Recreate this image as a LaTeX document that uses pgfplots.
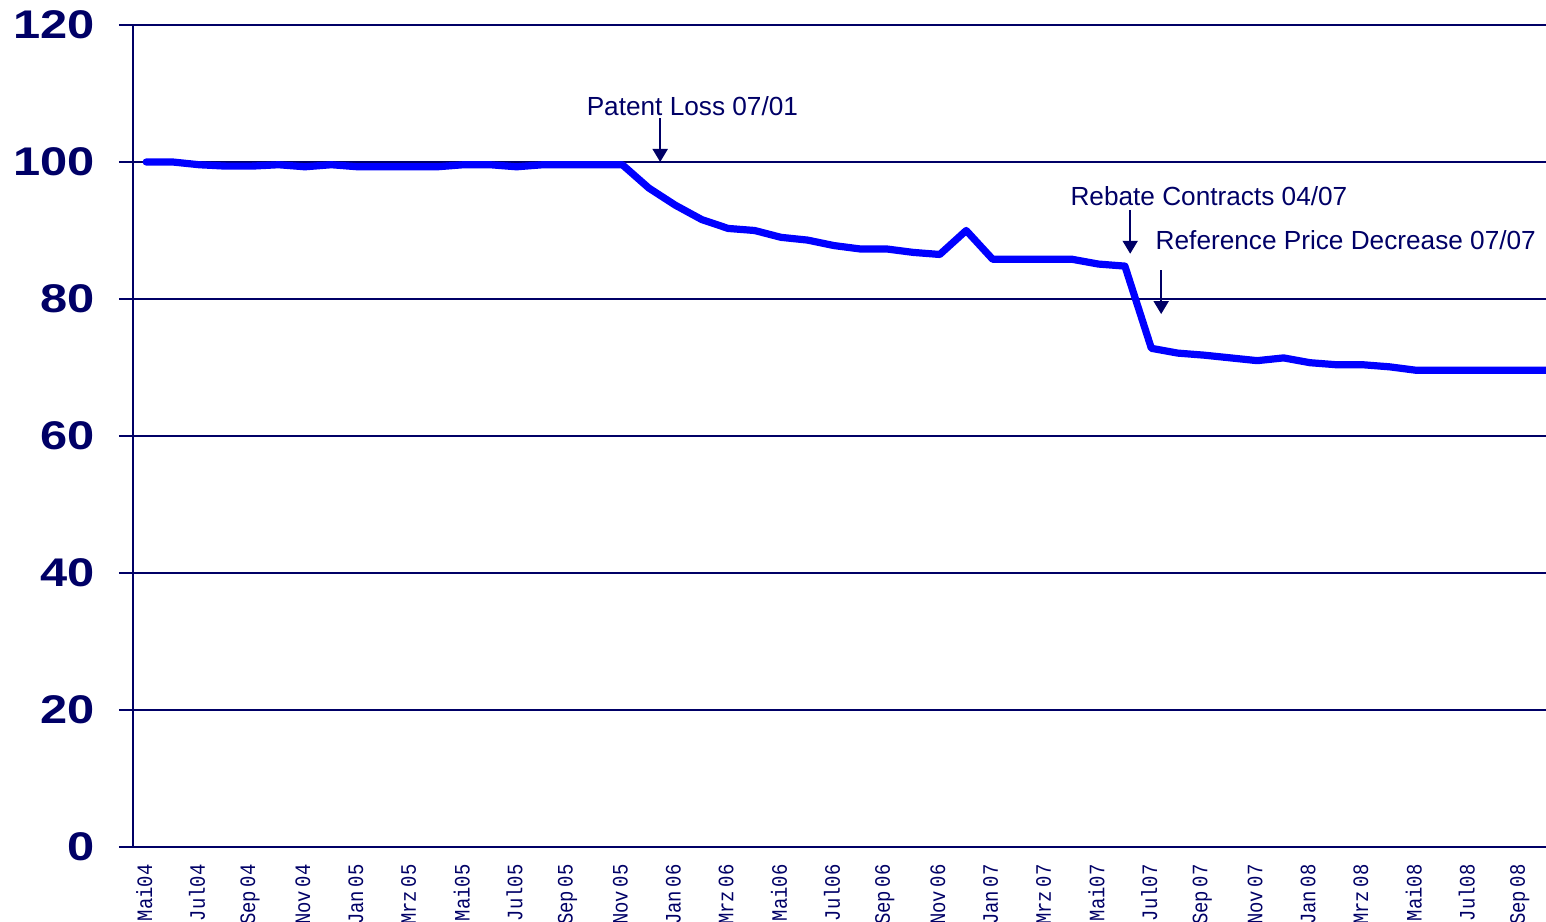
\documentclass[border=0pt]{standalone}
\usepackage{pgfplots}
\pgfplotsset{compat=1.18}
\usepackage{graphicx}
\usepackage{fontspec}
\setmainfont{Liberation Sans}
\newfontfamily\monofont{Liberation Mono}
\usetikzlibrary{arrows.meta}
\definecolor{navy}{RGB}{0,0,102}
\definecolor{lineblue}{RGB}{0,0,255}
\newcommand\sx[1]{\scalebox{0.86}[1]{#1}}
\newcommand\nsp{\hspace{0.2em}}
\pgfplotstableread{
x y
0 100
1 100
2 99.6
3 99.4
4 99.4
5 99.6
6 99.3
7 99.6
8 99.3
9 99.3
10 99.3
11 99.3
12 99.6
13 99.6
14 99.3
15 99.6
16 99.6
17 99.6
18 99.6
19 96.2
20 93.7
21 91.6
22 90.3
23 90.0
24 89.0
25 88.6
26 87.8
27 87.3
28 87.3
29 86.8
30 86.5
31 90.0
32 85.8
33 85.8
34 85.8
35 85.8
36 85.1
37 84.8
38 72.8
39 72.1
40 71.8
41 71.4
42 71.0
43 71.4
44 70.7
45 70.4
46 70.4
47 70.1
48 69.6
49 69.6
50 69.6
51 69.6
52 69.6
53 69.6
}\datatable
\begin{document}
\begin{tikzpicture}
\begin{axis}[
  name=ax,
  scale only axis,
  width=706.5pt, height=411pt,
  xmin=-0.5, xmax=52.92,
  ymin=0, ymax=120,
  axis lines=left,
  axis line style={-, navy, line width=1.4pt},
  ytick={0,20,...,120},
  ymajorgrids,
  grid style={navy, line width=0.9pt},
  tick align=outside,
  major tick length=7pt,
  tick style={navy, line width=1.2pt},
  ytick pos=left,
  xtick pos=bottom,
  yticklabel={\scalebox{1.22}[1]{\pgfmathprintnumber{\tick}}},
  yticklabel style={font=\fontsize{20}{20}\selectfont\bfseries, text=navy, xshift=-8.5pt},
  /pgf/number format/assume math mode=true,
  xtick={0,2,...,52},
  xtick style={draw=none},
  minor xtick={-0.5,0.5,...,52.5},
  minor tick length=4.5pt,
  minor tick style={navy, line width=1.2pt},
  xticklabels={\sx{Mai04},\sx{Jul04},\sx{Sep\nsp04},\sx{Nov\nsp04},\sx{Jan\nsp05},\sx{Mrz\nsp05},\sx{Mai05},\sx{Jul05},\sx{Sep\nsp05},\sx{Nov\nsp05},\sx{Jan\nsp06},\sx{Mrz\nsp06},\sx{Mai06},\sx{Jul06},\sx{Sep\nsp06},\sx{Nov\nsp06},\sx{Jan\nsp07},\sx{Mrz\nsp07},\sx{Mai07},\sx{Jul07},\sx{Sep\nsp07},\sx{Nov\nsp07},\sx{Jan\nsp08},\sx{Mrz\nsp08},\sx{Mai08},\sx{Jul08},\sx{Sep\nsp08}},
  xticklabel style={xshift=-1pt, rotate=90, anchor=east, font=\monofont\fontsize{11}{11}\selectfont, text=navy, inner sep=1.5pt},
  clip=true,
]
\addplot[lineblue, line width=3.6pt, line join=round, line cap=round] table[x=x,y=y]{\datatable};
\draw[navy, line width=1pt, -{Triangle[length=6.5pt,width=7.5pt]}] (axis cs:19.43,106.4) -- (axis cs:19.43,100);
\draw[navy, line width=1pt, -{Triangle[length=6.5pt,width=7.5pt]}] (axis cs:37.2,93.0) -- (axis cs:37.2,86.6);
\draw[navy, line width=1pt, -{Triangle[length=6.5pt,width=7.5pt]}] (axis cs:38.37,84.2) -- (axis cs:38.37,77.8);
\node[anchor=west, inner sep=0pt, text=navy, font=\fontsize{13.1}{13.1}\selectfont] at (axis cs:16.64,108.2) {Patent Loss 07/01};
\node[anchor=west, inner sep=0pt, text=navy, font=\fontsize{13.1}{13.1}\selectfont] at (axis cs:34.93,95.0) {Rebate Contracts 04/07};
\node[anchor=west, inner sep=0pt, text=navy, font=\fontsize{13.1}{13.1}\selectfont] at (axis cs:38.15,88.6) {Reference Price Decrease 07/07};
\end{axis}
\pgfresetboundingbox
\path (ax.south west) ++(-66.5pt,-37pt) rectangle ++(773pt,460.5pt);
\end{tikzpicture}
\end{document}
